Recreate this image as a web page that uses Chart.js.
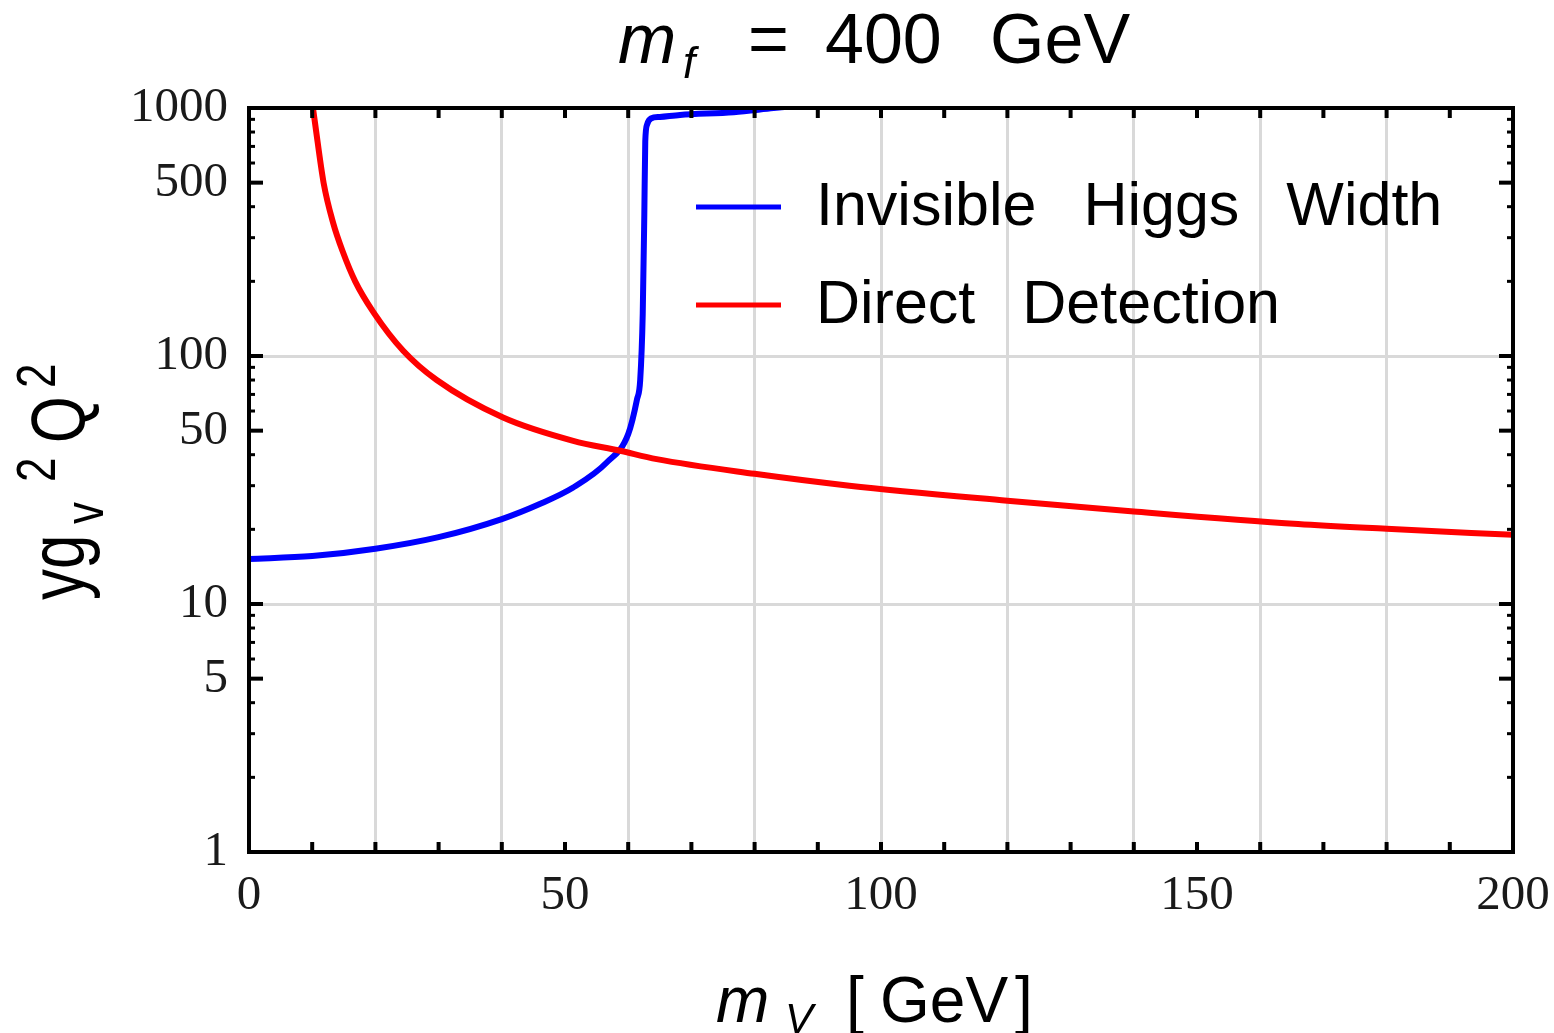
<!DOCTYPE html>
<html>
<head>
<meta charset="utf-8">
<script src="https://cdn.jsdelivr.net/npm/chart.js@4.4.1/dist/chart.umd.min.js"></script>
<style>
  html, body { margin: 0; padding: 0; background: #fff; }
</style>
</head>
<body>
<canvas id="plot" width="1554" height="1033"></canvas>
<script>
// --- data (m_f = 400 GeV) ---
const higgsMass     = [0, 10, 20, 30, 40, 46, 51.3, 56.6, 60.0, 61.4, 61.9, 62.3, 62.55, 62.7, 63.0, 63.6, 65, 68.2, 76.7, 83, 90];
const higgsCoupling = [15.2, 15.6, 16.7, 18.6, 22.0, 25.3, 29.5, 37.2, 48.4, 67, 80, 148, 373, 733, 859, 907, 920, 938, 962, 1000, 1040];

const ddMass     = [9.9, 10.5, 11.8, 13.3, 14.8, 16.8, 19.7, 24.4, 29.7, 40.2, 51.3, 58.7, 64.5, 80, 95, 120, 140, 166, 180, 200];
const ddCoupling = [1100, 850, 500, 345, 265, 200, 150, 105, 80, 56.5, 45.5, 41.5, 38.4, 33.5, 30.0, 26.1, 23.6, 21.0, 20.1, 19.0];

const seriesLabels = ['Invisible Higgs Width', 'Direct Detection'];
const seriesColors = ['#0000ff', '#ff0000'];

const xLabelTicks = [0, 50, 100, 150, 200];
const xGridLines  = [20, 40, 60, 80, 100, 120, 140, 160, 180];
const yLabelTicks = [1, 5, 10, 50, 100, 500, 1000];
const yGridLines  = [10, 100, 1000];
const yMinorTicks = [2, 3, 4, 6, 7, 8, 9, 20, 30, 40, 60, 70, 80, 90, 200, 300, 400, 600, 700, 800, 900];

const SANS = '"Liberation Sans", Arial, Helvetica, sans-serif';
const SERIF = '"Liberation Serif", "Times New Roman", serif';

function toPoints(xs, ys) { return xs.map((x, i) => ({ x, y: ys[i] })); }

// frame with inward ticks on all four sides, drawn over the curves
const framePlugin = {
  id: 'frame',
  afterDatasetsDraw(chart) {
    const { ctx, chartArea: a, scales: { x, y } } = chart;
    ctx.save();
    ctx.fillStyle = '#000';
    for (let v = 10; v < 200; v += 10) {
      const px = x.getPixelForValue(v);
      ctx.fillRect(px - 2, a.bottom - 10, 4, 10);
      ctx.fillRect(px - 2, a.top, 4, 10);
    }
    yMinorTicks.forEach(v => {
      const py = y.getPixelForValue(v);
      ctx.fillRect(a.left, py - 1.5, 6, 3);
      ctx.fillRect(a.right - 6, py - 1.5, 6, 3);
    });
    yLabelTicks.forEach(v => {
      const py = y.getPixelForValue(v);
      ctx.fillRect(a.left, py - 2, 14, 4);
      ctx.fillRect(a.right - 14, py - 2, 14, 4);
    });
    ctx.lineWidth = 4;
    ctx.strokeStyle = '#000';
    ctx.strokeRect(a.left, a.top, a.right - a.left, a.bottom - a.top);
    ctx.restore();
  }
};

// legend inside the plot, title and axis titles with sub/superscripts
const textPlugin = {
  id: 'texts',
  afterDraw(chart) {
    const { ctx, chartArea: a } = chart;
    ctx.save();
    ctx.fillStyle = '#000';
    ctx.textBaseline = 'alphabetic';

    // legend (wide word gaps, as in the reference)
    seriesLabels.forEach((lab, i) => {
      const ly = a.top + 99 + i * 98;
      ctx.strokeStyle = seriesColors[i];
      ctx.lineWidth = 5;
      ctx.beginPath();
      ctx.moveTo(a.left + 447, ly);
      ctx.lineTo(a.left + 532, ly);
      ctx.stroke();
      ctx.font = '61px ' + SANS;
      let tx = a.left + 567;
      lab.split(' ').forEach(word => {
        ctx.fillText(word, tx, ly + 18);
        tx += ctx.measureText(word).width + 47;
      });
    });

    // title: m_f = 400 GeV
    ctx.font = 'italic 70px ' + SANS;
    ctx.fillText('m', 618, 63);
    ctx.font = 'italic 44px ' + SANS;
    ctx.fillText('f', 683, 78);
    ctx.font = '70px ' + SANS;
    ctx.fillText('=', 748, 63);
    ctx.fillText('400', 825, 63);
    ctx.fillText('GeV', 990, 63);

    // x title: m_V [ GeV]
    ctx.font = 'italic 64px ' + SANS;
    ctx.fillText('m', 716, 1022);
    ctx.font = 'italic 42px ' + SANS;
    ctx.fillText('V', 785, 1033);
    ctx.font = '64px ' + SANS;
    ctx.fillText('[', 846, 1022);
    ctx.fillText('GeV', 880, 1022);
    ctx.fillText(']', 1015, 1022);

    // y title: y g_v ^2 Q^2, rotated and stretched like the reference
    ctx.translate(84, 600);
    ctx.rotate(-Math.PI / 2);
    ctx.scale(1, 1.26);
    ctx.font = '62px ' + SANS;
    ctx.fillText('yg', 0, 0);
    ctx.font = '44px ' + SANS;
    ctx.fillText('v', 76, 15);
    ctx.fillText('2', 118, -23);
    ctx.font = '60px ' + SANS;
    ctx.fillText('Q', 157, 0);
    ctx.font = '44px ' + SANS;
    ctx.fillText('2', 212, -23);
    ctx.restore();
  }
};

new Chart(document.getElementById('plot'), {
  type: 'line',
  data: {
    datasets: [
      {
        label: seriesLabels[0],
        data: toPoints(higgsMass, higgsCoupling),
        borderColor: seriesColors[0],
        borderWidth: 6,
        pointRadius: 0,
        cubicInterpolationMode: 'monotone',
        order: 1
      },
      {
        label: seriesLabels[1],
        data: toPoints(ddMass, ddCoupling),
        borderColor: seriesColors[1],
        borderWidth: 6,
        pointRadius: 0,
        cubicInterpolationMode: 'monotone',
        order: 0
      }
    ]
  },
  options: {
    responsive: false,
    animation: false,
    devicePixelRatio: 1,
    layout: { padding: { top: 108, right: 41, left: 0, bottom: 0 } },
    plugins: { legend: { display: false }, tooltip: { enabled: false }, title: { display: false } },
    scales: {
      x: {
        type: 'linear', min: 0, max: 200,
        afterFit: s => { s.height = 181; },
        afterBuildTicks: s => { s.ticks = xLabelTicks.concat(xGridLines.filter(v => v % 50 !== 0)).sort((p, q) => p - q).map(v => ({ value: v })); },
        border: { display: false },
        grid: {
          drawTicks: false,
          lineWidth: 3,
          color: c => xGridLines.includes(c.tick.value) ? '#d9d9d9' : 'rgba(0,0,0,0)'
        },
        ticks: {
          autoSkip: false, maxRotation: 0, padding: 4,
          color: '#1a1a1a',
          font: { family: SERIF, size: 49, lineHeight: '80px' },
          callback: v => xLabelTicks.includes(v) ? String(v) : ''
        }
      },
      y: {
        type: 'logarithmic', min: 1, max: 1000,
        afterFit: s => { s.width = 249; },
        afterBuildTicks: s => { s.ticks = yLabelTicks.map(v => ({ value: v })); },
        border: { display: false },
        grid: {
          drawTicks: false,
          lineWidth: 3,
          color: c => yGridLines.includes(c.tick.value) ? '#d9d9d9' : 'rgba(0,0,0,0)'
        },
        ticks: {
          padding: 21,
          color: '#1a1a1a',
          font: { family: SERIF, size: 49 },
          callback: v => String(v)
        }
      }
    }
  },
  plugins: [framePlugin, textPlugin]
});
</script>
</body>
</html>
